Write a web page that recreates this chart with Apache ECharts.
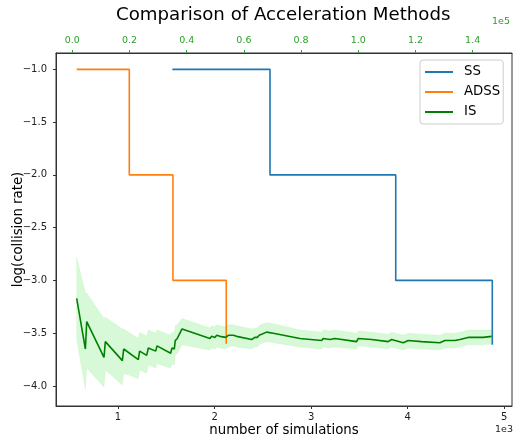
<!DOCTYPE html>
<html><head><meta charset="utf-8">
<script src="https://cdn.jsdelivr.net/npm/echarts@6/dist/echarts.min.js"></script>
<style>html,body{margin:0;padding:0;background:#fff}#c{width:513px;height:438px}</style>
</head><body><div id="c"></div>
<script>
// ---- data ----
const bottomTicks = [1000, 2000, 3000, 4000, 5000];
const topTicks = [0, 20000, 40000, 60000, 80000, 100000, 120000, 140000];
const yTicks = [-4, -3.5, -3, -2.5, -2, -1.5, -1];

const ssX = [1563, 2574, 3876, 4876];
const ssY = [-1, -2, -3, -3.61];

const adssX = [572, 1117, 1569, 2121];
const adssY = [-1, -2, -3, -3.60];

const isX = [1530, 4570, 5040, 11080, 11560, 17500, 17970, 23070, 23540, 26010,
  26580, 29150, 29620, 34380, 34860, 35670, 36000, 36710, 38370, 48130,
  48730, 49880, 50490, 51640, 53630, 54540, 56300, 57480, 62710, 63860,
  64670, 65380, 65960, 67950, 70280, 79600, 87200, 87740, 90100, 91820,
  99420, 99990, 104650, 110460, 111640, 115730, 117450, 122150, 128530, 130280,
  133800, 135520, 138420, 141930, 143690, 146630];
const isY = [-3.17, -3.65, -3.39, -3.73, -3.58, -3.76, -3.65, -3.75, -3.67, -3.71,
  -3.64, -3.67, -3.62, -3.69, -3.64, -3.65, -3.57, -3.55, -3.46, -3.55,
  -3.53, -3.54, -3.52, -3.53, -3.54, -3.52, -3.52, -3.53, -3.56, -3.54,
  -3.54, -3.52, -3.51, -3.49, -3.50, -3.55, -3.57, -3.55, -3.56, -3.55,
  -3.58, -3.55, -3.56, -3.58, -3.56, -3.59, -3.57, -3.58, -3.59, -3.57,
  -3.57, -3.56, -3.54, -3.54, -3.54, -3.53];
const isHi = [-2.78, -3.12, -3.12, -3.36, -3.35, -3.46, -3.46, -3.55, -3.49, -3.53,
  -3.47, -3.50, -3.47, -3.52, -3.49, -3.50, -3.43, -3.42, -3.36, -3.45,
  -3.43, -3.44, -3.42, -3.43, -3.44, -3.42, -3.42, -3.43, -3.46, -3.45,
  -3.45, -3.43, -3.42, -3.40, -3.41, -3.47, -3.49, -3.47, -3.48, -3.47,
  -3.50, -3.48, -3.49, -3.51, -3.49, -3.52, -3.50, -3.51, -3.52, -3.50,
  -3.50, -3.49, -3.47, -3.47, -3.47, -3.47];
const isLo = [-3.56, -4.03, -3.83, -4.01, -3.85, -3.99, -3.88, -3.93, -3.85, -3.88,
  -3.80, -3.83, -3.79, -3.83, -3.79, -3.80, -3.71, -3.69, -3.61, -3.66,
  -3.64, -3.65, -3.63, -3.64, -3.65, -3.63, -3.62, -3.63, -3.65, -3.63,
  -3.63, -3.61, -3.60, -3.58, -3.59, -3.63, -3.65, -3.63, -3.64, -3.63,
  -3.65, -3.62, -3.63, -3.65, -3.63, -3.66, -3.64, -3.65, -3.66, -3.64,
  -3.64, -3.63, -3.61, -3.61, -3.61, -3.60];

// ---- chart ----
const FONT = 'DejaVu Sans';
const chart = echarts.init(document.getElementById('c'), null, {renderer: 'canvas'});
const minusFmt = v => v.toFixed(1).replace('-', '\u2212');

const option = {
  animation: false,
  textStyle: {fontFamily: FONT},
  title: {
    text: 'Comparison of Acceleration Methods',
    left: 116, top: 6, padding: 0,
    textStyle: {fontFamily: FONT, fontSize: 18.2, fontWeight: 'normal', color: '#000'}
  },
  grid: {left: 56, right: 1, top: 53, bottom: 32, containLabel: false, outerBoundsMode: 'none',
    show: true, borderColor: '#333', borderWidth: 1, backgroundColor: 'transparent'},
  legend: {
    data: ['SS', 'ADSS', 'IS'],
    orient: 'vertical', left: 420, top: 60,
    padding: [5, 3, 5, 5], itemGap: 6, itemWidth: 28, itemHeight: 2, icon: 'rect',
    backgroundColor: 'rgba(255,255,255,0.8)', borderColor: '#cccccc', borderWidth: 1, borderRadius: 3,
    textStyle: {fontFamily: FONT, fontSize: 13.3, color: '#000', lineHeight: 14, padding: [0, 0, 0, 6]}
  },
  xAxis: [
    {
      type: 'value', position: 'bottom', min: 358, max: 5080,
      name: 'number of simulations', nameLocation: 'middle', nameGap: 18, nameMoveOverlap: false,
      nameTextStyle: {fontFamily: FONT, fontSize: 13.3, color: '#000'},
      axisLine: {show: true, onZero: false, lineStyle: {color: '#333'}},
      axisTick: {show: true, length: 3, customValues: bottomTicks, lineStyle: {color: '#333'}},
      axisLabel: {customValues: bottomTicks, formatter: v => String(v / 1000), margin: 6, fontSize: 10, color: '#222'},
      splitLine: {show: false}
    },
    {
      type: 'value', position: 'top', min: -5700, max: 153750,
      axisLine: {show: true, onZero: false, lineStyle: {color: '#333'}},
      axisTick: {show: true, length: 3, customValues: topTicks, lineStyle: {color: '#2ca02c'}},
      axisLabel: {customValues: topTicks, formatter: v => (v / 1e5).toFixed(1), margin: 7, fontSize: 9.5, color: '#2ca02c'},
      splitLine: {show: false}
    }
  ],
  yAxis: {
    type: 'value', min: -4.19, max: -0.845,
    name: 'log(collision rate)', nameLocation: 'middle', nameGap: 31, nameRotate: 90, nameMoveOverlap: false,
    nameTextStyle: {fontFamily: FONT, fontSize: 13.3, color: '#000'},
    axisLine: {show: true, onZero: false, lineStyle: {color: '#333'}},
    axisTick: {show: true, length: 3, customValues: yTicks, lineStyle: {color: '#333'}},
    axisLabel: {customValues: yTicks, formatter: minusFmt, margin: 9, fontSize: 10, color: '#222'},
    splitLine: {show: false}
  },
  graphic: [
    {type: 'text', right: 0, top: 425, style: {text: '1e3', font: '9.5px "DejaVu Sans"', fill: '#222'}},
    {type: 'text', right: 3, top: 17, style: {text: '1e5', font: '9.5px "DejaVu Sans"', fill: '#2ca02c'}}
  ],
  series: [
    {
      name: 'IS band', type: 'custom', xAxisIndex: 1, yAxisIndex: 0, z: 1, silent: true,
      data: isX.map((x, i) => [x, isLo[i], isHi[i]]),
      encode: {x: 0, y: [1, 2]},
      renderItem: (params, api) => {
        if (params.dataIndex !== 0) return null;
        const pts = [];
        for (let i = 0; i < isX.length; i++) pts.push(api.coord([isX[i], isHi[i]]));
        for (let i = isX.length - 1; i >= 0; i--) pts.push(api.coord([isX[i], isLo[i]]));
        return {type: 'polygon', shape: {points: pts}, style: {fill: 'rgba(144,238,144,0.35)', stroke: 'rgba(144,238,144,0.35)', lineWidth: 0.5}};
      }
    },
    {
      name: 'SS', type: 'line', xAxisIndex: 0, yAxisIndex: 0, z: 3,
      data: ssX.map((x, i) => [x, ssY[i]]), step: 'end', symbol: 'none',
      lineStyle: {color: '#1f77b4', width: 1.6}, itemStyle: {color: '#1f77b4'}
    },
    {
      name: 'ADSS', type: 'line', xAxisIndex: 0, yAxisIndex: 0, z: 3,
      data: adssX.map((x, i) => [x, adssY[i]]), step: 'end', symbol: 'none',
      lineStyle: {color: '#ff7f0e', width: 1.6}, itemStyle: {color: '#ff7f0e'}
    },
    {
      name: 'IS', type: 'line', xAxisIndex: 1, yAxisIndex: 0, z: 3,
      data: isX.map((x, i) => [x, isY[i]]), symbol: 'none',
      lineStyle: {color: '#008000', width: 1.6}, itemStyle: {color: '#008000'}
    }
  ]
};
chart.setOption(option);
</script>
</body></html>
